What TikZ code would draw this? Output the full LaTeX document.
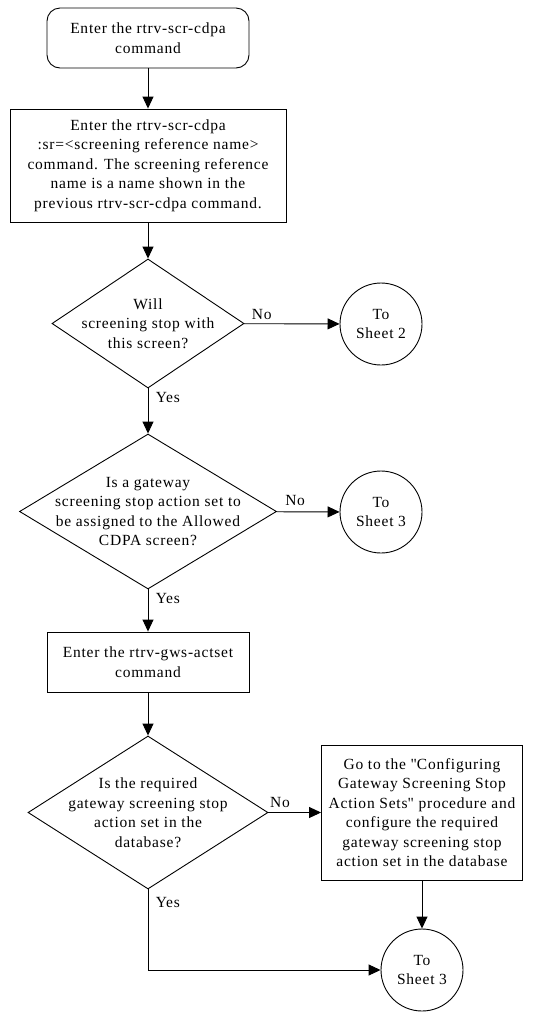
\documentclass[tikz,border=0pt]{standalone}
\usepackage{fontspec}
\setmainfont{Liberation Serif}[LetterSpace=5]
\usetikzlibrary{shapes.geometric,arrows.meta}

\begin{document}
\begin{tikzpicture}[x=1pt,y=-1pt,line width=0.9pt,
  font=\fontsize{15.5}{19.5}\selectfont,
  box/.style={draw,inner sep=0pt,align=center},
  decision/.style={draw,diamond,inner sep=0pt},
  qtext/.style={align=center},
  sheet/.style={draw,circle,minimum size=82pt,inner sep=0pt,align=center},
  arr/.style={-{Triangle[length=12pt,width=11pt]}}]
  \useasboundingbox (0,0) rectangle (545,1013);

  \node[box,rounded corners=13pt,minimum width=202pt,minimum height=60pt] (start) at (148,38) {Enter the rtrv-scr-cdpa\\command};
  \node[box,minimum width=276pt,minimum height=113pt] (rtrvsr) at (148,165.5) {Enter the rtrv-scr-cdpa\\:sr=<screening reference name>\\command. The screening reference\\name is a name shown in the\\previous rtrv-scr-cdpa command.};
  \node[decision,minimum width=192pt,minimum height=129pt,
    label={[qtext]center:{Will\\screening stop with\\this screen?}}] (stop) at (148,323.5) {};
  \node[sheet] (sheettwo) at (381,324) {To\\Sheet 2};
  \node[decision,minimum width=257pt,minimum height=155pt,
    label={[qtext]center:{Is a gateway\\screening stop action set to\\be assigned to the Allowed\\CDPA screen?}}] (assign) at (148,511.5) {};
  \node[sheet] (sheetthreea) at (381,512) {To\\Sheet 3};
  \node[box,minimum width=202pt,minimum height=60pt] (actset) at (148,662) {Enter the rtrv-gws-actset\\command};
  \node[decision,minimum width=240pt,minimum height=153pt,
    label={[qtext]center:{Is the required\\gateway screening stop\\action set in the\\database?}}] (indb) at (148,812.5) {};
  \node[box,minimum width=201pt,minimum height=135pt] (config) at (422,812.5) {Go to the \textquotedbl Configuring\\Gateway Screening Stop\\Action Sets\textquotedbl{} procedure and\\configure the required\\gateway screening stop\\action set in the database};
  \node[sheet] (sheetthreeb) at (422,970) {To\\Sheet 3};

  \draw[arr] (start) -- (rtrvsr);
  \draw[arr] (rtrvsr) -- (stop);
  \draw[arr] (stop) -- node[above right,at start,xshift=4pt] {No} (sheettwo);
  \draw[arr] (stop) -- node[below right,at start,xshift=4pt] {Yes} (assign);
  \draw[arr] (assign) -- node[above right,at start,xshift=5pt,yshift=2pt] {No} (sheetthreea);
  \draw[arr] (assign) -- node[below right,at start,xshift=4pt] {Yes} (actset);
  \draw[arr] (actset) -- (indb);
  \draw[arr] (indb) -- node[above right,at start,xshift=-2pt,yshift=1pt] {No} (config);
  \draw[arr] (config) -- (sheetthreeb);
  \draw[arr] (indb.south) |- node[below right,at start,xshift=4pt,yshift=-4pt] {Yes} (sheetthreeb.west);
\end{tikzpicture}
\end{document}
